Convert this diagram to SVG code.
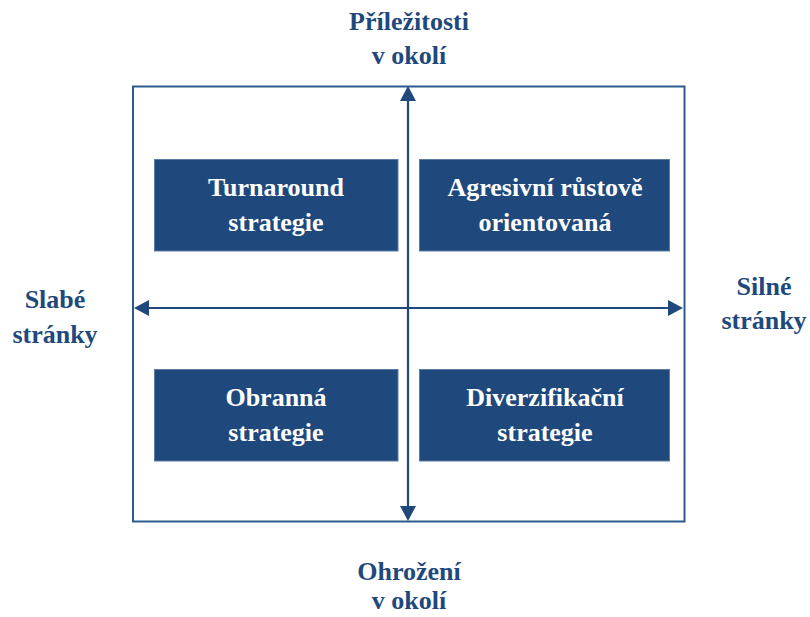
<svg xmlns="http://www.w3.org/2000/svg" width="810" height="617" viewBox="0 0 810 617">
  <style>
    .lbl { font-family: "Liberation Serif", "DejaVu Serif", "Times New Roman", serif; font-weight: bold; font-size: 26px; fill: #1F497D; text-anchor: middle; }
    .box { fill: #1F497D; stroke: #5B7BA6; stroke-width: 1; }
    .btxt { font-family: "Liberation Serif", "DejaVu Serif", "Times New Roman", serif; font-weight: bold; font-size: 26px; fill: #FFFFFF; text-anchor: middle; }
    .axis { stroke: #1F497D; stroke-width: 2.2; fill: none; }
    .head { fill: #1F497D; }
  </style>
  <rect width="810" height="617" fill="#FFFFFF"/>
  <g id="frame">
    <rect x="133" y="86.5" width="551.5" height="435" fill="none" stroke="#2E5A8E" stroke-width="2"/>
  </g>
  <g id="connectors">
    <line class="axis" x1="408" y1="304" x2="408" y2="88"/>
    <path class="head" d="M408,86 L400,101 L416,101 Z"/>
    <line class="axis" x1="408" y1="304" x2="408" y2="519"/>
    <path class="head" d="M408,521 L400,506 L416,506 Z"/>
    <line class="axis" x1="408" y1="308" x2="137" y2="308"/>
    <path class="head" d="M134,308 L149,300 L149,316 Z"/>
    <line class="axis" x1="408" y1="308" x2="680" y2="308"/>
    <path class="head" d="M683,308 L668,300 L668,316 Z"/>
  </g>
  <g id="turnaround">
    <rect class="box" x="154.5" y="159.5" width="243.5" height="91.5"/>
    <text class="btxt" x="276" y="196" font-family="Liberation Serif, serif">Turnaround</text>
    <text class="btxt" x="276" y="231" font-family="Liberation Serif, serif">strategie</text>
  </g>
  <g id="agresivni">
    <rect class="box" x="419.5" y="159.5" width="250" height="91.5"/>
    <text class="btxt" x="545" y="196">Agresivní růstově</text>
    <text class="btxt" x="545" y="231">orientovaná</text>
  </g>
  <g id="obranna">
    <rect class="box" x="154.5" y="369.5" width="243.5" height="91.5"/>
    <text class="btxt" x="276" y="406">Obranná</text>
    <text class="btxt" x="276" y="441">strategie</text>
  </g>
  <g id="diverzifikacni">
    <rect class="box" x="419.5" y="369.5" width="250" height="91.5"/>
    <text class="btxt" x="545" y="406">Diverzifikační</text>
    <text class="btxt" x="545" y="441">strategie</text>
  </g>
  <g id="label-top">
    <text class="lbl" x="409" y="30">Příležitosti</text>
    <text class="lbl" x="409" y="64">v okolí</text>
  </g>
  <g id="label-bottom">
    <text class="lbl" x="409" y="580">Ohrožení</text>
    <text class="lbl" x="409" y="609">v okolí</text>
  </g>
  <g id="label-left">
    <text class="lbl" x="55" y="308">Slabé</text>
    <text class="lbl" x="55" y="343">stránky</text>
  </g>
  <g id="label-right">
    <text class="lbl" x="764" y="295">Silné</text>
    <text class="lbl" x="764" y="329">stránky</text>
  </g>
</svg>
